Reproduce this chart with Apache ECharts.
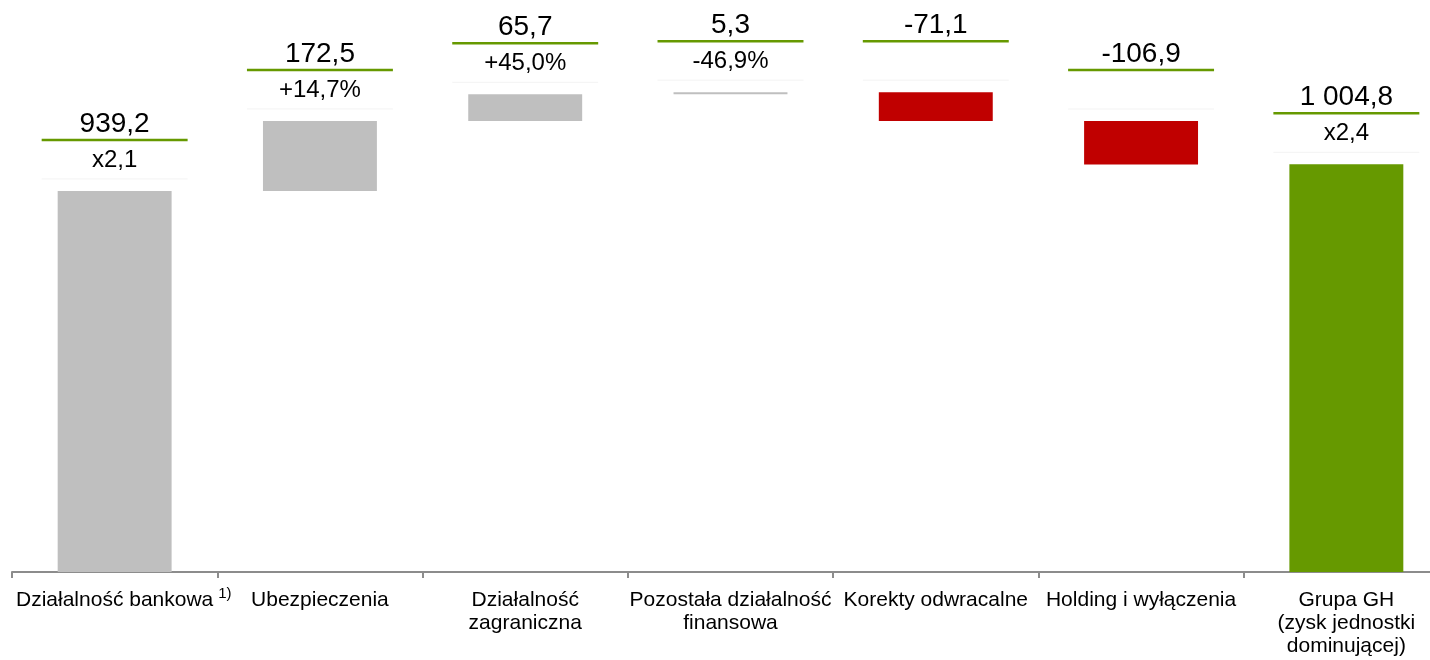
<!DOCTYPE html>
<html>
<head>
<meta charset="utf-8">
<script src="https://cdn.jsdelivr.net/npm/echarts@6/dist/echarts.min.js"></script>
<style>
  html, body { margin: 0; padding: 0; background: #fff; }
  #chart { width: 1430px; height: 660px; }
</style>
</head>
<body>
<div id="chart"></div>
<script>
// Waterfall: contribution of segments to the group's net profit (mln zł)
const categories = [
  'Działalność bankowa',
  'Ubezpieczenia',
  'Działalność\nzagraniczna',
  'Pozostała działalność\nfinansowa',
  'Korekty odwracalne',
  'Holding i wyłączenia',
  'Grupa GH\n(zysk jednostki\ndominującej)'
];
const values = [939.2, 172.5, 65.7, 5.3, -71.1, -106.9, 1004.8];
const isTotal = [true, false, false, false, false, false, true];
const changeLabels = ['x2,1', '+14,7%', '+45,0%', '-46,9%', '', '', 'x2,4'];
const footnote = '1)';

const FONT = "'Liberation Sans', Arial, sans-serif";
const LABEL_SIZE = 21;
const GREY = '#bfbfbf';
const RED = '#c00000';
const GREEN = '#669900';

// Polish number format: space as thousands separator, comma as decimal mark
function fmt(v) {
  const parts = Math.abs(v).toFixed(1).split('.');
  const intPart = parts[0].replace(/\B(?=(\d{3})+(?!\d))/g, ' ');
  return (v < 0 ? '-' : '') + intPart + ',' + parts[1];
}

// Invisible base + visible step for each category
const baseData = [];
const stepData = [];
const topData = [];
let running = 0;
values.forEach((v, i) => {
  let base, height;
  if (isTotal[i]) {
    base = 0; height = v; running = v;
  } else if (v >= 0) {
    base = running; height = v; running += v;
  } else {
    base = running + v; height = -v; running += v;
  }
  const color = v < 0 ? RED : (i === values.length - 1 ? GREEN : GREY);
  baseData.push(base);
  stepData.push({ value: height, itemStyle: { color: color } });
  topData.push([i, base + height]);
});

const chart = echarts.init(document.getElementById('chart'), null, { renderer: 'canvas' });

chart.setOption({
  animation: false,
  backgroundColor: '#fff',
  // the last category runs a little past the right edge of the canvas
  grid: { left: 12, right: -19, top: 4, bottom: 88, outerBoundsMode: 'none', containLabel: false },
  xAxis: {
    type: 'category',
    data: categories,
    axisLine: { show: true, lineStyle: { color: '#8c8c8c', width: 2 } },
    axisTick: { show: true, length: 6, lineStyle: { color: '#8c8c8c', width: 2 } },
    axisLabel: {
      interval: 0,
      margin: 17,
      color: '#000',
      fontFamily: FONT,
      fontSize: LABEL_SIZE,
      lineHeight: 23
    }
  },
  yAxis: {
    type: 'value',
    show: false,
    min: 0,
    max: 1400,
    splitLine: { show: false }
  },
  series: [
    {
      type: 'bar',
      stack: 'wf',
      barWidth: '55.5%',
      itemStyle: { color: 'transparent' },
      emphasis: { disabled: true },
      data: baseData
    },
    {
      type: 'bar',
      stack: 'wf',
      barWidth: '55.5%',
      emphasis: { disabled: true },
      data: stepData
    },
    {
      // value / change annotations above each bar
      type: 'custom',
      clip: false,
      z: 5,
      encode: { x: 0, y: 1 },
      data: topData,
      renderItem: function (params, api) {
        const i = api.value(0);
        const p = api.coord([i, api.value(1)]);
        const half = api.size([1, 0])[0] * 0.711 / 2;
        const lineY = p[1] - 51;
        const children = [
          {
            type: 'line',
            shape: { x1: p[0] - half, y1: lineY + 39, x2: p[0] + half, y2: lineY + 39 },
            style: { stroke: '#f3f3f3', lineWidth: 1 }
          },
          {
            type: 'line',
            shape: { x1: p[0] - half, y1: lineY, x2: p[0] + half, y2: lineY },
            style: { stroke: GREEN, lineWidth: 2.5 }
          },
          {
            type: 'text',
            style: {
              text: fmt(values[i]), x: p[0], y: lineY - 16,
              align: 'center', verticalAlign: 'middle',
              fontSize: 28, fontFamily: FONT, fill: '#000'
            }
          }
        ];
        if (changeLabels[i]) {
          children.push({
            type: 'text',
            style: {
              text: changeLabels[i], x: p[0], y: lineY + 20,
              align: 'center', verticalAlign: 'middle',
              fontSize: 24, fontFamily: FONT, fill: '#000'
            }
          });
        }
        return { type: 'group', children: children };
      }
    }
  ]
});

// Footnote marker set as a superscript right after the first category label
const ctx = document.createElement('canvas').getContext('2d');
ctx.font = LABEL_SIZE + 'px ' + FONT;
const labelHalf = ctx.measureText(categories[0]).width / 2;
const cx = chart.convertToPixel({ xAxisIndex: 0 }, categories[0]);
const axisY = chart.convertToPixel({ yAxisIndex: 0 }, 0);
chart.setOption({
  graphic: [{
    type: 'text',
    x: cx + labelHalf + 5,
    y: axisY + 14,
    style: {
      text: footnote,
      fontSize: 15,
      fontFamily: FONT,
      fill: '#000',
      verticalAlign: 'top'
    }
  }]
});
</script>
</body>
</html>
